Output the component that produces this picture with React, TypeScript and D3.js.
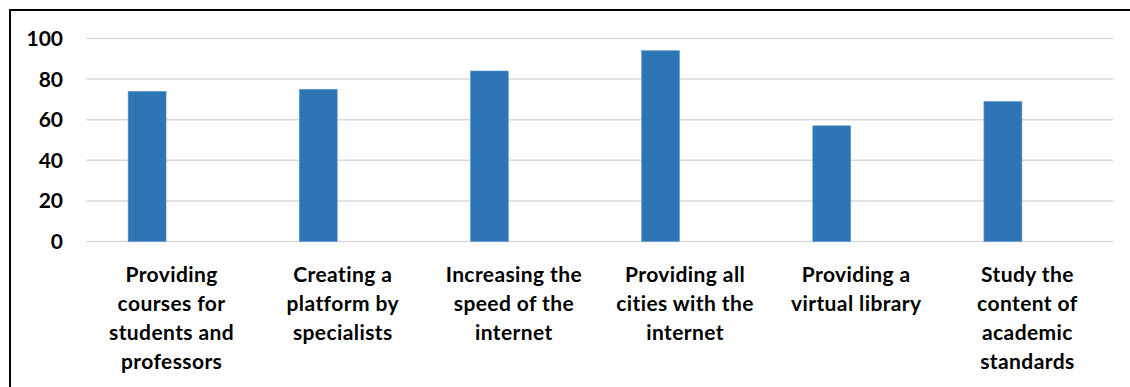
import React from "react";
import * as d3 from "d3";

const categories: string[] = [
  "Providing\ncourses for\nstudents and\nprofessors",
  "Creating a\nplatform by\nspecialists",
  "Increasing the\nspeed of the\ninternet",
  "Providing all\ncities with the\ninternet",
  "Providing a\nvirtual library",
  "Study the\ncontent of\nacademic\nstandards",
];
const values: number[] = [74, 75, 84, 94, 57, 69];
const yTicks: number[] = [0, 20, 40, 60, 80, 100];

const W = 1130;
const H = 387;
const plotLeft = 86;
const plotRight = 1113;
const yTop = 38.5;
const yBottom = 241.5;
const FONT = "Lato, 'Open Sans', sans-serif";

export default function App() {
  const x = d3
    .scaleBand<number>()
    .domain(categories.map((_, i) => i))
    .range([plotLeft, plotRight])
    .paddingInner(0)
    .paddingOuter(0);
  const y = d3.scaleLinear().domain([0, 100]).range([yBottom, yTop]);
  const barW = 38;
  const barOffset = -24.5;

  return (
    <div style={{ position: "fixed", left: 0, top: 0 }}>
      <svg width={W} height={H} style={{ display: "block" }}>
        <rect x={0} y={0} width={W} height={H} fill="#fff" />
        <rect x={10} y={10} width={W + 10} height={H + 10} fill="none" stroke="#000" strokeWidth={2} />
        {yTicks.map((t) => (
          <g key={t}>
            <line x1={plotLeft} x2={plotRight} y1={y(t)} y2={y(t)} stroke="#d9d9d9" strokeWidth={1.5} />
            <text
              x={63}
              y={y(t)}
              dy="0.36em"
              textAnchor="end"
              fontFamily={FONT}
              fontWeight={700}
              fontSize={21}
              fill="#000"
            >
              {t}
            </text>
          </g>
        ))}
        {values.map((v, i) => {
          const cx = (x(i) as number) + x.bandwidth() / 2 + barOffset;
          return (
            <rect
              key={i}
              x={cx - barW / 2}
              y={y(v)}
              width={barW}
              height={y(0) - y(v)}
              fill="#2e75b6"
              stroke="#6a9fd0"
              strokeWidth={0.6}
            />
          );
        })}
        {categories.map((c, i) => {
          const cx = (x(i) as number) + x.bandwidth() / 2;
          return (
            <text
              key={i}
              textAnchor="middle"
              fontFamily={FONT}
              fontWeight={700}
              fontSize={21}
              letterSpacing={0.4}
              fill="#000"
            >
              {c.split("\n").map((line, j) => (
                <tspan key={j} x={cx} y={281.5 + j * 29}>
                  {line}
                </tspan>
              ))}
            </text>
          );
        })}
      </svg>
    </div>
  );
}
